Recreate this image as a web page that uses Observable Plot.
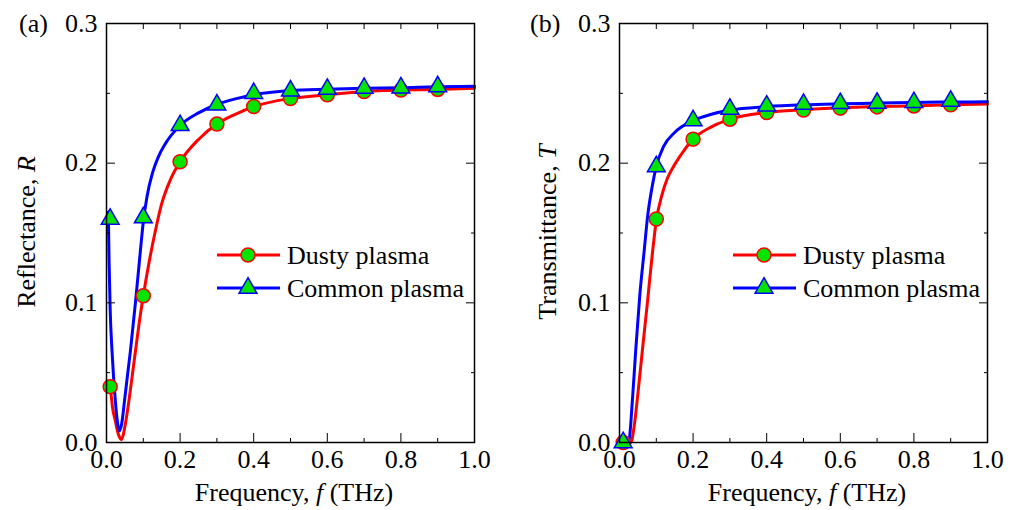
<!DOCTYPE html>
<html><head><meta charset="utf-8">
<script src="https://cdn.jsdelivr.net/npm/d3@7"></script>
<script src="https://cdn.jsdelivr.net/npm/@observablehq/plot@0.6"></script>
<style>
body{margin:0;background:#fff;}
#wrap{display:flex;width:1016px;height:510px;overflow:hidden;}
#wrap svg{flex:none;}
</style></head><body><div id="wrap"></div>
<script>
// ---------- data ----------
const xTicksMajor = [0, 0.2, 0.4, 0.6, 0.8, 1.0];
const xTicksMinor = [0.1, 0.3, 0.5, 0.7, 0.9];
const yTicksMajor = [0, 0.1, 0.2, 0.3];
const yTicksMinor = [0.05, 0.15, 0.25];
const seriesNames = ["Dusty plasma", "Common plasma"];

// marker positions
const markerFreq = [0.01, 0.1, 0.2, 0.3, 0.4, 0.5, 0.6, 0.7, 0.8, 0.9];
const reflDustyMarks  = [0.040, 0.105, 0.201, 0.228, 0.2405, 0.2463, 0.249, 0.2513, 0.2523, 0.2528];
const reflCommonMarks = [0.160, 0.161, 0.227, 0.2418, 0.250, 0.2518, 0.253, 0.2537, 0.254, 0.2548];
const tranDustyMarks  = [0.000, 0.160, 0.2172, 0.2315, 0.2363, 0.238, 0.2394, 0.2403, 0.241, 0.2418];
const tranCommonMarks = [0.000, 0.1976, 0.2305, 0.2387, 0.241, 0.2422, 0.2428, 0.243, 0.2435, 0.2445];

// curves: (a) reflectance
const reflDustyF = [0.005,0.01,0.017,0.024,0.03,0.035,0.04,0.046,0.053,0.061,0.07,0.079,0.088,0.1,0.115,0.13,0.15,0.175,0.2,0.25,0.3,0.35,0.4,0.5,0.6,0.7,0.8,0.9,1.0];
const reflDustyR = [0.042,0.039,0.024,0.0155,0.008,0.004,0.002,0.006,0.016,0.030,0.048,0.066,0.084,0.105,0.128,0.148,0.171,0.189,0.201,0.217,0.228,0.235,0.2405,0.2463,0.249,0.2513,0.2523,0.2528,0.2537];
const reflCommonF = [0.005,0.007,0.01,0.015,0.024,0.03,0.035,0.041,0.049,0.057,0.065,0.079,0.092,0.1,0.11,0.125,0.14,0.16,0.2,0.25,0.3,0.35,0.4,0.5,0.6,0.7,0.8,0.9,1.0];
const reflCommonR = [0.165,0.13,0.095,0.0656,0.030,0.014,0.0084,0.013,0.030,0.048,0.0656,0.101,0.137,0.158,0.176,0.193,0.204,0.214,0.227,0.236,0.242,0.246,0.249,0.252,0.253,0.2537,0.254,0.2548,0.255];

// curves: (b) transmittance
const tranDustyF = [0.0,0.031,0.04,0.05,0.062,0.075,0.088,0.1,0.115,0.13,0.15,0.175,0.2,0.25,0.3,0.4,0.5,0.6,0.7,0.8,0.9,1.0];
const tranDustyT = [0.0,0.0,0.012,0.035,0.0656,0.098,0.132,0.159,0.177,0.189,0.199,0.209,0.2172,0.226,0.2315,0.2363,0.2383,0.2396,0.2405,0.241,0.2418,0.2424];
const tranCommonF = [0.0,0.02,0.026,0.035,0.044,0.055,0.067,0.076,0.09,0.1,0.12,0.15,0.2,0.25,0.3,0.4,0.5,0.6,0.7,0.8,0.9,1.0];
const tranCommonT = [0.0,0.0,0.002,0.03,0.0656,0.105,0.137,0.161,0.185,0.1976,0.212,0.222,0.2305,0.235,0.238,0.2405,0.2418,0.2425,0.243,0.2435,0.2438,0.2439];

// ---------- styles ----------
const RED = "#ff0000", BLUE = "#0000ff", GREEN = "#00e400";
const FONT = "'Liberation Serif', 'Times New Roman', serif";
const FS = 26;
const CIRCLE_R = 7, TRI_R = 6.6;

const zip = (xs, ys) => xs.map((x, i) => ({x, y: ys[i]}));

function panel(opt) {
  const W = 508, H = 510;
  const redLine = zip(opt.redF, opt.redY), blueLine = zip(opt.blueF, opt.blueY);
  const redPts = zip(markerFreq, opt.redM), bluePts = zip(markerFreq, opt.blueM);
  const axOpts = {fontSize: FS, label: null};
  const svg = Plot.plot({
    width: W, height: H,
    marginLeft: opt.ml, marginRight: opt.mr, marginTop: 23, marginBottom: 68,
    style: {fontFamily: FONT, fontSize: FS + "px", color: "black", background: "white", overflow: "visible"},
    x: {domain: [0, 1], axis: null},
    y: {domain: [0, 0.3], axis: null},
    marks: [
      Plot.line(redLine, {x: "x", y: "y", stroke: RED, strokeWidth: 3, curve: "monotone-x"}),
      Plot.line(blueLine, {x: "x", y: "y", stroke: BLUE, strokeWidth: 3, curve: "monotone-x"}),
      Plot.dot(redPts, {x: "x", y: "y", r: CIRCLE_R, fill: GREEN, stroke: RED, strokeWidth: 1.5, symbol: "circle"}),
      Plot.dot(bluePts, {x: "x", y: "y", r: TRI_R, fill: GREEN, stroke: BLUE, strokeWidth: 1.5, symbol: "triangle"}),
      // bottom / left axes with labels (ticks point inward)
      Plot.axisX(xTicksMajor, {...axOpts, anchor: "bottom", tickSize: -9, tickPadding: 16, tickFormat: d3.format(".1f")}),
      Plot.axisX(xTicksMinor, {...axOpts, anchor: "bottom", tickSize: -4, text: null, tickFormat: () => ""}),
      Plot.axisY(yTicksMajor, {...axOpts, anchor: "left", tickSize: -9, tickPadding: 18, tickFormat: d3.format(".1f")}),
      Plot.axisY(yTicksMinor, {...axOpts, anchor: "left", tickSize: -4, text: null, tickFormat: () => ""}),
      // top / right mirrored ticks
      Plot.axisX(xTicksMajor.concat(xTicksMinor), {...axOpts, anchor: "top", tickSize: -5, text: null, tickFormat: () => ""}),
      Plot.axisY(yTicksMajor, {...axOpts, anchor: "right", tickSize: -9, text: null, tickFormat: () => ""}),
      Plot.axisY(yTicksMinor, {...axOpts, anchor: "right", tickSize: -4, text: null, tickFormat: () => ""}),
      Plot.frame({stroke: "black", strokeWidth: 1.5})
    ]
  });
  const s = d3.select(svg);
  const g = s.append("g").attr("font-family", FONT).attr("font-size", FS).attr("fill", "black").attr("text-anchor", "start");
  // panel tag
  g.append("text").attr("x", opt.tagX).attr("y", 32).text(opt.tag);
  // y title
  const yt = g.append("text").attr("text-anchor", "middle")
    .attr("transform", `translate(${opt.ytX},232) rotate(-90)`);
  yt.append("tspan").text(opt.ytitle + ", ");
  yt.append("tspan").attr("font-style", "italic").text(opt.ytitleVar);
  // x title
  const xc = opt.ml + (W - opt.ml - opt.mr) / 2;
  const xt = g.append("text").attr("text-anchor", "middle").attr("x", xc + 4).attr("y", 501);
  xt.append("tspan").text("Frequency, ");
  xt.append("tspan").attr("font-style", "italic").text("f");
  xt.append("tspan").text(" (THz)");
  // legend
  const lg = g.append("g").attr("transform", `translate(${opt.legX},0)`);
  const rows = [{name: seriesNames[0], c: RED, sym: "circle", y: 255}, {name: seriesNames[1], c: BLUE, sym: "triangle", y: 288}];
  rows.forEach(r => {
    lg.append("line").attr("x1", 0).attr("x2", 63).attr("y1", r.y).attr("y2", r.y).attr("stroke", r.c).attr("stroke-width", 3);
    if (r.sym === "circle") {
      lg.append("circle").attr("cx", 31).attr("cy", r.y).attr("r", CIRCLE_R).attr("fill", GREEN).attr("stroke", r.c).attr("stroke-width", 1.5);
    } else {
      lg.append("path").attr("d", d3.symbol(d3.symbolTriangle, Math.PI * TRI_R * TRI_R)()).attr("transform", `translate(31,${r.y})`)
        .attr("fill", GREEN).attr("stroke", r.c).attr("stroke-width", 1.5);
    }
    lg.append("text").attr("x", 70).attr("y", r.y).attr("dy", "0.33em").text(r.name);
  });
  return svg;
}

const wrap = document.getElementById("wrap");
wrap.appendChild(panel({
  redF: reflDustyF, redY: reflDustyR, blueF: reflCommonF, blueY: reflCommonR,
  redM: reflDustyMarks, blueM: reflCommonMarks,
  ml: 106, mr: 34, tag: "(a)", tagX: 19, ytitle: "Reflectance", ytitleVar: "R", ytX: 35, legX: 217
}));
wrap.appendChild(panel({
  redF: tranDustyF, redY: tranDustyT, blueF: tranCommonF, blueY: tranCommonT,
  redM: tranDustyMarks, blueM: tranCommonMarks,
  ml: 111, mr: 29, tag: "(b)", tagX: 22, ytitle: "Transmittance", ytitleVar: "T", ytX: 48, legX: 225
}));
</script></body></html>
